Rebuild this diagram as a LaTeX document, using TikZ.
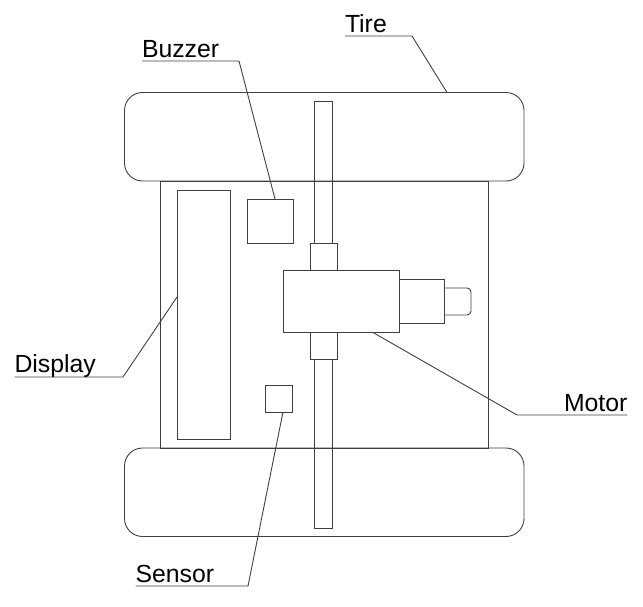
\documentclass[tikz,border=0pt]{standalone}
\usepackage{fontspec}
\setmainfont{Liberation Sans}
\usepackage{xcolor}
\usepackage{tikz}
\usetikzlibrary{positioning}

\begin{document}
\begin{tikzpicture}[
    x=1pt, y=-1pt,
    part/.style={rectangle, draw=black!75, line width=0.9pt, inner sep=0pt, outer sep=0pt},
    tire/.style={part, minimum width=399.5pt, minimum height=88.5pt, rounded corners=18pt},
    collar/.style={part, minimum width=27pt, minimum height=26.5pt},
    shaft/.style={part, minimum width=18pt},
    callout/.style={inner sep=0pt, outer sep=0pt, anchor=base west, font=\fontsize{24.8}{28}\selectfont},
    leader/.style={draw=black!75, line width=0.9pt}
]
\useasboundingbox (0,0) rectangle (643,607);

\node[tire] (tireTop) at (324.25,92.5) [anchor=north] {};
\node[tire] (tireBottom) at (324.25,448) [anchor=north] {};
\node[part, minimum width=327.5pt, minimum height=267pt, anchor=north west] (chassis) at (160.5,181) {};
\node[part, minimum width=53pt, minimum height=249pt, anchor=north west] (display) at (177,190) {};
\node[part, minimum width=45.5pt, minimum height=44.5pt, anchor=north west] (buzzer) at (247.5,199) {};
\node[part, minimum width=27pt, minimum height=26.5pt, anchor=north west] (sensor) at (265.5,385.5) {};

\node[part, minimum width=115.5pt, minimum height=62.5pt, anchor=north west] (motor) at (283.5,270) {};
\node[part, minimum width=45pt, minimum height=44.5pt, right=0pt of motor] (gearbox) {};
\node[collar, anchor=south] (collarTop) at (323.5,270) {};
\node[collar, anchor=north] (collarBottom) at (323.5,332.5) {};
\node[shaft, minimum height=142.5pt, above=0pt of collarTop] (shaftTop) {};
\node[shaft, minimum height=169pt, below=0pt of collarBottom] (shaftBottom) {};

% output stub, only the free end is rounded
\draw[leader, rounded corners=4pt] (444,288) -- (471,288) -- (471,315) -- (444,315);

\node[callout] (tireLabel) at (345,33) {Tire};
\node[callout] (buzzerLabel) at (142,58) {Buzzer};
\node[callout] (displayLabel) at (14.5,372) {Display};
\node[callout] (motorLabel) at (564,411) {Motor};
\node[callout] (sensorLabel) at (135.5,582) {Sensor};

\coordinate (tireBend) at (412,36);
\coordinate (tireEnd) at (447,92.5);
\coordinate (buzzerBend) at (239,61);
\coordinate (buzzerEnd) at (275,199);
\coordinate (displayBend) at (123,377);
\coordinate (displayEnd) at (177,297);
\coordinate (motorBend) at (517,415);
\coordinate (motorEnd) at (373,332.5);
\coordinate (sensorBend) at (248,586);
\coordinate (sensorEnd) at (283,412);

\draw[leader] (tireLabel.base west |- tireBend) -- (tireBend) -- (tireEnd);
\draw[leader] (buzzerLabel.base west |- buzzerBend) -- (buzzerBend) -- (buzzerEnd);
\draw[leader] (displayLabel.base west |- displayBend) -- (displayBend) -- (displayEnd);
\draw[leader] (motorLabel.base east |- motorBend) -- (motorBend) -- (motorEnd);
\draw[leader] (sensorLabel.base west |- sensorBend) -- (sensorBend) -- (sensorEnd);
\end{tikzpicture}
\end{document}
